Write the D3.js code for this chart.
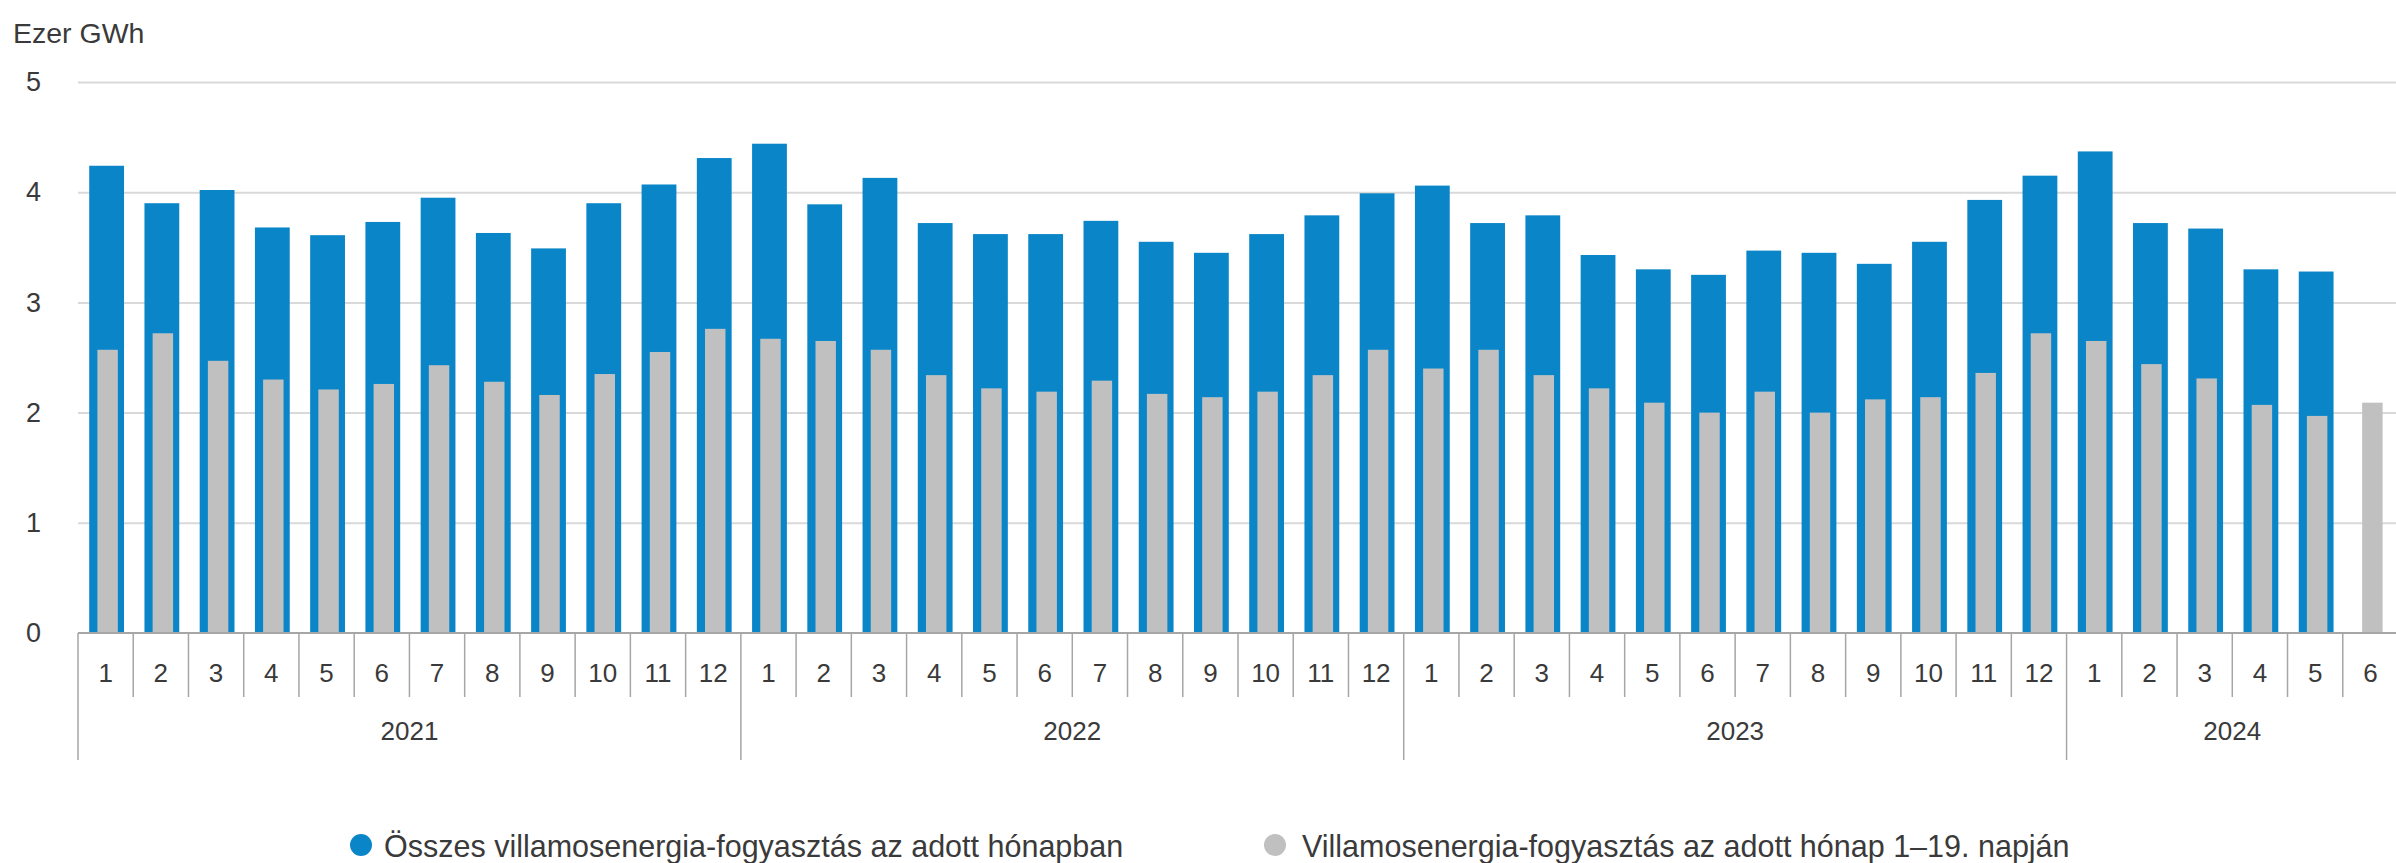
<!DOCTYPE html>
<html>
<head>
<meta charset="utf-8">
<script src="https://cdn.jsdelivr.net/npm/d3@7"></script>
<style>
  html, body { margin: 0; padding: 0; background: #ffffff; }
  svg { display: block; }
</style>
</head>
<body>
<svg id="chart" width="2396" height="863"></svg>
<script>
// ---------------- DATA ----------------
const years = ["2021", "2022", "2023", "2024"];
const monthsPerYear = [12, 12, 12, 6];
const monthLabels = ["1","2","3","4","5","6","7","8","9","10","11","12"];

// Összes villamosenergia-fogyasztás az adott hónapban (ezer GWh)
const totalConsumption = [
  4.24, 3.90, 4.02, 3.68, 3.61, 3.73, 3.95, 3.63, 3.49, 3.90, 4.07, 4.31,
  4.44, 3.89, 4.13, 3.72, 3.62, 3.62, 3.74, 3.55, 3.45, 3.62, 3.79, 3.99,
  4.06, 3.72, 3.79, 3.43, 3.30, 3.25, 3.47, 3.45, 3.35, 3.55, 3.93, 4.15,
  4.37, 3.72, 3.67, 3.30, 3.28, null
];
// Villamosenergia-fogyasztás az adott hónap 1–19. napján (ezer GWh)
const partialConsumption = [
  2.57, 2.72, 2.47, 2.30, 2.21, 2.26, 2.43, 2.28, 2.16, 2.35, 2.55, 2.76,
  2.67, 2.65, 2.57, 2.34, 2.22, 2.19, 2.29, 2.17, 2.14, 2.19, 2.34, 2.57,
  2.40, 2.57, 2.34, 2.22, 2.09, 2.00, 2.19, 2.00, 2.12, 2.14, 2.36, 2.72,
  2.65, 2.44, 2.31, 2.07, 1.97, 2.09
];
const yTicks = [0, 1, 2, 3, 4, 5];
const seriesNames = [
  "Összes villamosenergia-fogyasztás az adott hónapban",
  "Villamosenergia-fogyasztás az adott hónap 1–19. napján"
];
const unitLabel = "Ezer GWh";

// ---------------- BUILD ----------------
(function () {
const rows = [];
years.forEach((yr, yi) => {
  for (let m = 0; m < monthsPerYear[yi]; m++) {
    rows.push({ key: yr + "-" + monthLabels[m], year: yr, month: monthLabels[m] });
  }
});
rows.forEach((r, i) => { r.total = totalConsumption[i]; r.partial = partialConsumption[i]; });

const BLUE = "#0a86c8";
const GRAY = "#c0c0c0";
const GRID = "#d9d9d9";
const AXIS = "#a6a6a6";
const TEXT = "#3a3a3a";
const FONT = "'Liberation Sans', Arial, sans-serif";

const svg = d3.select("#chart");
const pLeft = 78, pRight = 2398, pTop = 82, pBottom = 633;

const x = d3.scaleBand().domain(rows.map(r => r.key)).range([pLeft, pRight]).paddingInner(0).paddingOuter(0);
const y = d3.scaleLinear().domain([0, 5]).range([pBottom, pTop]);

// gridlines
const grid = svg.append("g").attr("transform", `translate(${pLeft},0)`)
  .call(d3.axisLeft(y).tickValues(yTicks.filter(t => t > 0)).tickSize(-(2396 - pLeft)).tickFormat(""));
grid.select(".domain").remove();
grid.selectAll("line").attr("stroke", GRID).attr("stroke-width", 2);

// y labels
const yAx = svg.append("g").attr("transform", `translate(41,0)`)
  .call(d3.axisLeft(y).tickValues(yTicks).tickSize(0).tickPadding(0).tickFormat(d3.format("d")));
yAx.select(".domain").remove();
yAx.selectAll("text").attr("font-family", FONT).attr("font-size", 27).attr("fill", TEXT).attr("text-anchor", "end");

svg.append("text").attr("x", 13).attr("y", 43).text(unitLabel)
  .attr("font-family", FONT).attr("font-size", 28.5).attr("fill", TEXT);

// bars
const bw = x.bandwidth();
const blueW = bw * 0.63, grayW = bw * 0.37;
svg.append("g").selectAll("rect").data(rows.filter(r => r.total != null)).join("rect")
  .attr("x", r => x(r.key) + (bw - blueW) / 2 + 1)
  .attr("width", blueW)
  .attr("y", r => y(r.total))
  .attr("height", r => y(0) - y(r.total))
  .attr("fill", BLUE);
svg.append("g").selectAll("rect").data(rows.filter(r => r.partial != null)).join("rect")
  .attr("x", r => x(r.key) + (bw - grayW) / 2 + 2)
  .attr("width", grayW)
  .attr("y", r => y(r.partial))
  .attr("height", r => y(0) - y(r.partial))
  .attr("fill", GRAY);

// x axis
const xa = svg.append("g");
xa.append("line").attr("x1", pLeft).attr("x2", 2396).attr("y1", y(0)).attr("y2", y(0))
  .attr("stroke", AXIS).attr("stroke-width", 2);
rows.forEach((r, i) => {
  const isYearStart = i === 0 || rows[i - 1].year !== r.year;
  xa.append("line").attr("x1", x(r.key)).attr("x2", x(r.key))
    .attr("y1", y(0)).attr("y2", isYearStart ? 760 : 697)
    .attr("stroke", AXIS).attr("stroke-width", 1.5);
});
xa.selectAll("text.m").data(rows).join("text").attr("class", "m")
  .attr("x", r => x(r.key) + bw / 2).attr("y", 673)
  .attr("text-anchor", "middle").attr("dominant-baseline", "central")
  .attr("font-family", FONT).attr("font-size", 26).attr("fill", TEXT)
  .text(r => r.month);
years.forEach(yv => {
  const ks = rows.filter(r => r.year === yv);
  const x0 = x(ks[0].key), x1 = x(ks[ks.length - 1].key) + bw;
  xa.append("text").attr("x", (x0 + x1) / 2).attr("y", 731)
    .attr("text-anchor", "middle").attr("dominant-baseline", "central")
    .attr("font-family", FONT).attr("font-size", 26).attr("fill", TEXT).text(yv);
});

// legend
const legend = svg.append("g");
const legendItems = [
  { name: seriesNames[0], color: BLUE, cx: 361, tx: 384 },
  { name: seriesNames[1], color: GRAY, cx: 1275, tx: 1302 }
];
legendItems.forEach(it => {
  legend.append("circle").attr("cx", it.cx).attr("cy", 845).attr("r", 11).attr("fill", it.color);
  legend.append("text").attr("x", it.tx).attr("y", 846).attr("dominant-baseline", "central")
    .attr("font-family", FONT).attr("font-size", 30.5)
    .attr("fill", TEXT).text(it.name);
});
})();
</script>
</body>
</html>
